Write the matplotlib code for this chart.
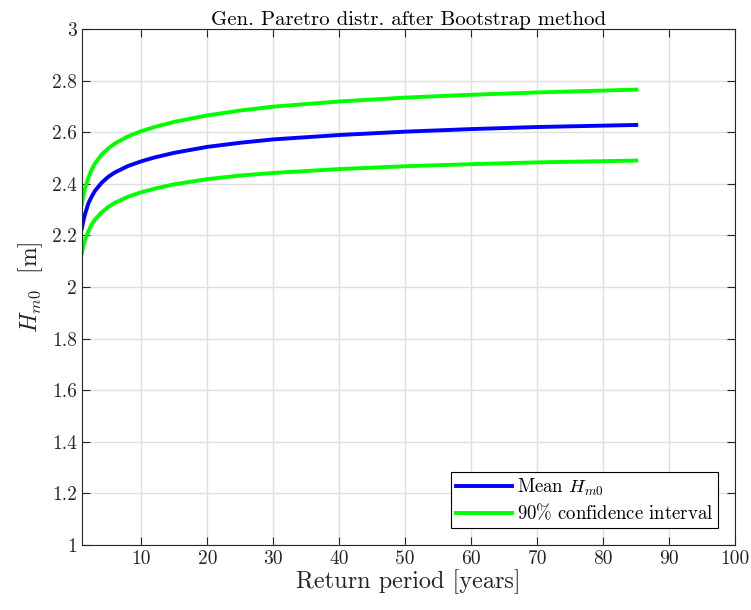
import matplotlib
matplotlib.use("Agg")
import matplotlib.pyplot as plt
from matplotlib.ticker import FuncFormatter

plt.rcParams['font.family'] = 'serif'
plt.rcParams['font.serif'] = ['cmr10', 'DejaVu Serif']
plt.rcParams['mathtext.fontset'] = 'cm'
plt.rcParams['axes.formatter.use_mathtext'] = True

# values
return_period = [1, 1.25, 1.5, 2, 2.5, 3, 4, 5, 6, 8, 10, 12, 15, 20, 25, 30,
                 40, 50, 60, 70, 85]
hm0_mean = [2.227, 2.259, 2.284, 2.325, 2.351, 2.373, 2.404, 2.427, 2.444, 2.469,
            2.487, 2.502, 2.520, 2.543, 2.559, 2.572, 2.589, 2.602, 2.612, 2.620,
            2.628]
hm0_upper = [2.322, 2.357, 2.384, 2.424, 2.455, 2.479, 2.513, 2.537, 2.556, 2.584,
             2.604, 2.620, 2.640, 2.665, 2.684, 2.699, 2.719, 2.734, 2.745, 2.754,
             2.765]
hm0_lower = [2.131, 2.160, 2.183, 2.216, 2.242, 2.261, 2.289, 2.310, 2.326, 2.350,
             2.367, 2.381, 2.398, 2.418, 2.432, 2.442, 2.457, 2.468, 2.476, 2.483,
             2.490]

x_ticks = [10, 20, 30, 40, 50, 60, 70, 80, 90, 100]
y_ticks = [1, 1.2, 1.4, 1.6, 1.8, 2, 2.2, 2.4, 2.6, 2.8, 3]

dark = (0.15, 0.15, 0.15)

fig = plt.figure(figsize=(7.51, 6.10), dpi=100)
ax = fig.add_axes([0.109, 0.1066, 0.870, 0.8459])

ax.plot(return_period, hm0_mean, color=(0, 0, 1), lw=2.8, label=r'Mean $H_{m0}$')
ax.plot(return_period, hm0_upper, color=(0, 1, 0), lw=2.8, label=r'90$\%$ confidence interval')
ax.plot(return_period, hm0_lower, color=(0, 1, 0), lw=2.8)

ax.set_xlim(1, 100)
ax.set_ylim(1, 3)
ax.set_xticks(x_ticks)
ax.set_yticks(y_ticks)
ax.yaxis.set_major_formatter(FuncFormatter(lambda v, p: '%g' % v))
ax.xaxis.set_major_formatter(FuncFormatter(lambda v, p: '%g' % v))

ax.grid(True, color=(0.88, 0.88, 0.88), lw=1.0)
ax.set_axisbelow(True)
ax.tick_params(direction='in', top=True, right=True, length=6, width=0.8,
               labelsize=14, colors=dark, labelcolor=dark)
for s in ax.spines.values():
    s.set_color(dark)
    s.set_linewidth(0.8)

ax.set_title('Gen. Paretro distr. after Bootstrap method', fontsize=15, color='black', pad=3)
ax.set_xlabel('Return period [years]', fontsize=17.5, color=dark, labelpad=1)
ax.set_ylabel(r'$H_{m0}$  [m]', fontsize=17, color=dark, labelpad=5)

leg = ax.legend(loc='lower right', fontsize=13.5, fancybox=False, framealpha=1,
                edgecolor='black', borderaxespad=0.9, handlelength=3.0,
                handletextpad=0.3, borderpad=0.25, labelspacing=0.25)
leg.get_frame().set_linewidth(0.8)

fig.savefig('out.png', dpi=100)
